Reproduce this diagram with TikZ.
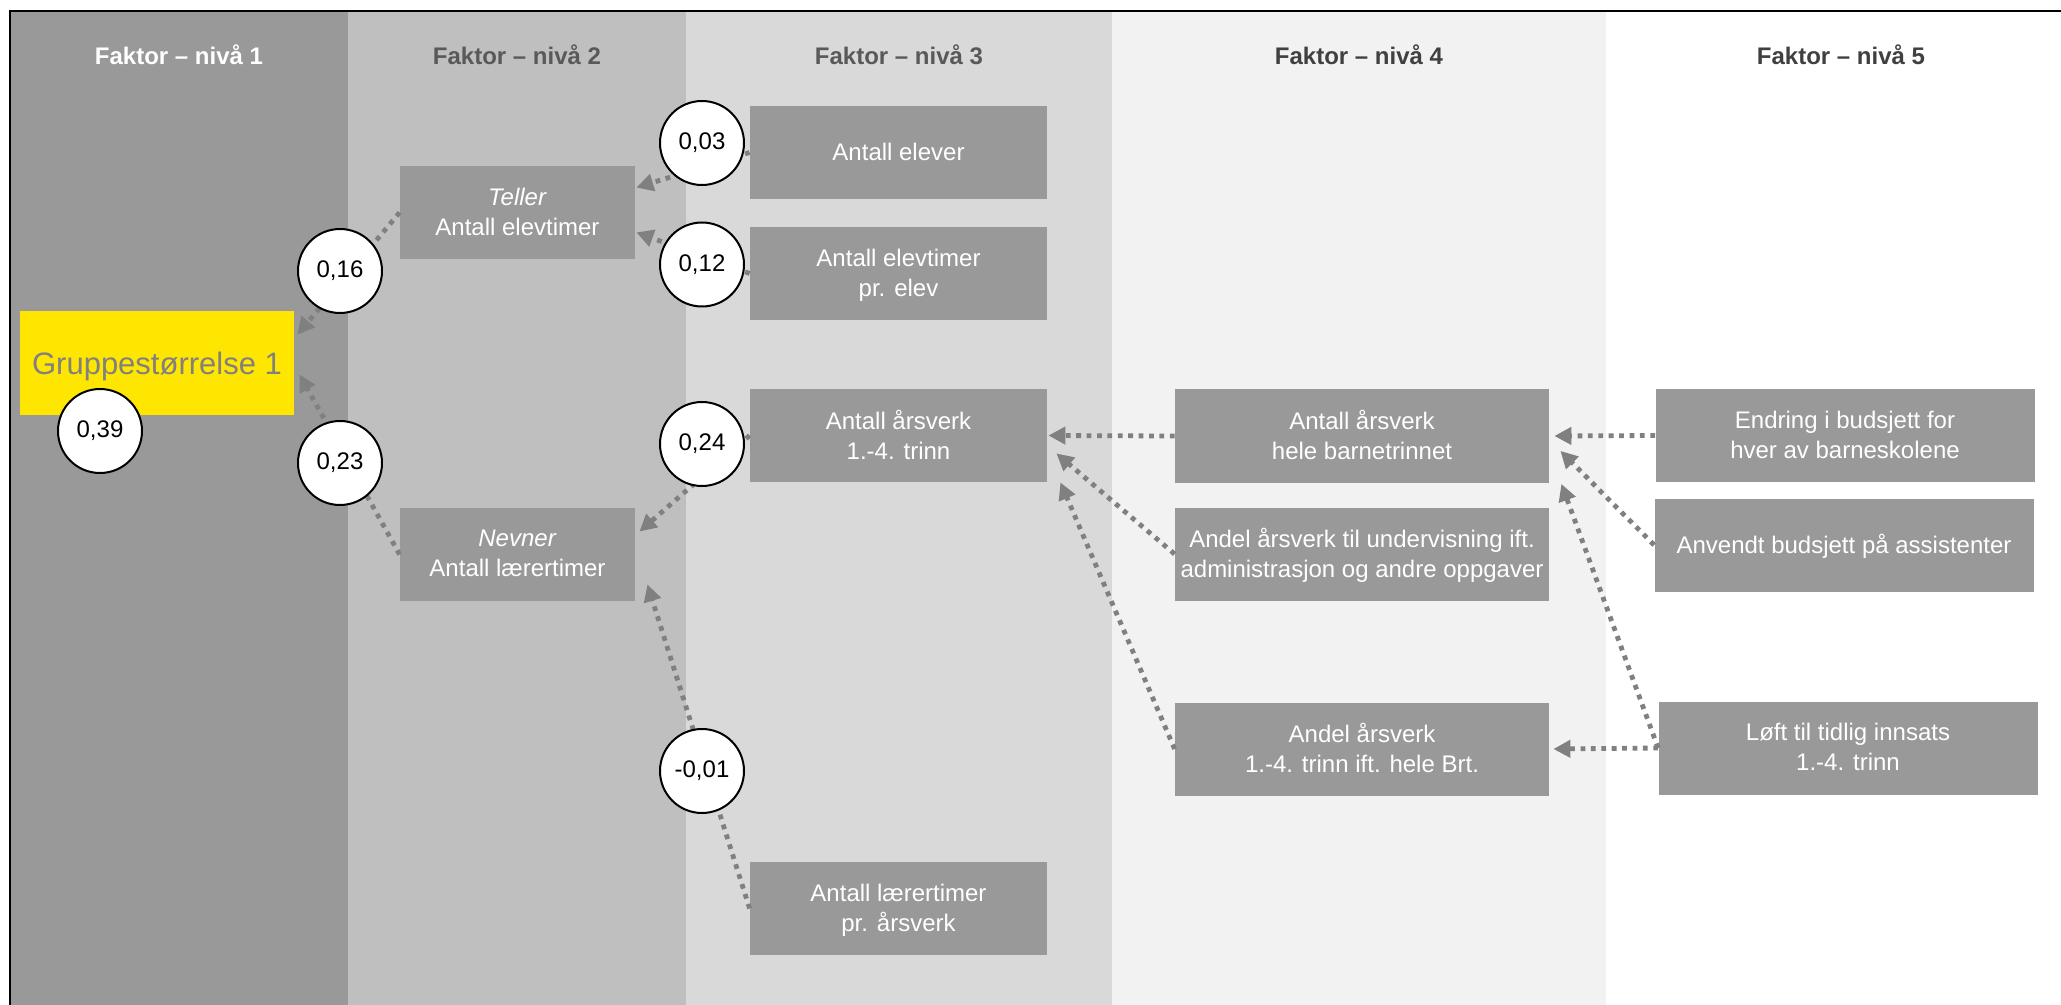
\documentclass[tikz,border=0pt]{standalone}
\usepackage{fontspec}
\setmainfont{Liberation Sans}
\usetikzlibrary{positioning,arrows.meta,calc}
\definecolor{colone}{HTML}{999999}
\definecolor{coltwo}{HTML}{BFBFBF}
\definecolor{colthree}{HTML}{D9D9D9}
\definecolor{colfour}{HTML}{F2F2F2}
\definecolor{boxgray}{HTML}{999999}
\definecolor{arrowgray}{HTML}{808080}
\definecolor{headmid}{HTML}{595959}
\definecolor{headdark}{HTML}{404040}
\definecolor{grpyellow}{HTML}{FFE600}
\tikzset{
  flowarrow/.style={-{Triangle[length=8.5pt, width=8.5pt]}, color=arrowgray, line width=2.4pt, dash pattern=on 2.4pt off 2.8pt},
  factorbox/.style={fill=boxgray, text=white, inner sep=0pt, minimum width=148.5pt, minimum height=46.5pt, align=center, text depth=1pt},
  ratiobox/.style={factorbox, minimum width=117.5pt},
  widebox/.style={factorbox, minimum width=187pt},
  budgetbox/.style={factorbox, minimum width=189.5pt},
  targetbox/.style={fill=grpyellow, text=arrowgray, inner sep=0pt, minimum width=137pt, minimum height=52pt, text depth=0pt, font=\fontsize{15.5}{18}\selectfont},
  coef/.style={circle, draw=black, line width=1pt, fill=white, minimum size=42pt, inner sep=0pt},
  levelhead/.style={font=\bfseries\fontsize{12}{15}\selectfont}
}

\begin{document}
\begin{tikzpicture}[x=0.5pt, y=-0.5pt, every node/.style={font=\fontsize{12}{15}\selectfont}]
  \useasboundingbox (0,0) rectangle (2061,1005);
  \fill[white] (0,0) rectangle (2061,1005);
  % level columns
  \fill[colone] (10,11) rectangle (348,1010);
  \fill[coltwo] (348,11) rectangle (686,1010);
  \fill[colthree] (686,11) rectangle (1112,1010);
  \fill[colfour] (1112,11) rectangle (1606,1010);
  \draw[line width=1.3pt] (10,1010) -- (10,11) -- (2070,11);

  \node[levelhead, text=white] (headone) at (179,55) {Faktor – nivå 1};
  \node[levelhead, text=headmid] (headtwo) at (517,55) {Faktor – nivå 2};
  \node[levelhead, text=headmid] (headthree) at (899,55) {Faktor – nivå 3};
  \node[levelhead, text=headdark] (headfour) at (1359,55) {Faktor – nivå 4};
  \node[levelhead, text=headdark] (headfive) at (1841,55) {Faktor – nivå 5};

  % boxes
  \node[targetbox] (grp) at (157,363) {Gruppestørrelse 1};
  \node[ratiobox] (teller) at (517.5,212.5) {\textit{Teller}\\Antall elevtimer};
  \node[ratiobox] (nevner) at (517.5,554.5) {\textit{Nevner}\\Antall lærertimer};
  \node[factorbox] (elever) at (898.5,152.5) {Antall elever};
  \node[factorbox] (elevtimer) at (898.5,273.5) {Antall elevtimer\\pr. elev};
  \node[factorbox] (aars14) at (898.5,435.5) {Antall årsverk\\1.-4. trinn};
  \node[factorbox] (laerer) at (898.5,908.5) {Antall lærertimer\\pr. årsverk};
  \node[widebox] (hele) at (1362,436) {Antall årsverk\\hele barnetrinnet};
  \node[widebox] (andelund) at (1362,554) {Andel årsverk til undervisning ift.\\administrasjon og andre oppgaver};
  \node[widebox] (andel14) at (1362,749) {Andel årsverk\\1.-4. trinn ift. hele Brt.};
  \node[budgetbox] (endring) at (1845,435.5) {Endring i budsjett for\\hver av barneskolene};
  \node[budgetbox] (anvendt) at (1844,545) {Anvendt budsjett på assistenter};
  \node[budgetbox] (loeft) at (1848,748) {Løft til tidlig innsats\\1.-4. trinn};

  % arrows
  \draw[flowarrow] (teller.west) -- ($(grp.north east)+(3,24)$);
  \draw[flowarrow] (nevner.west) -- ($(grp.south east)+(5,-41)$);
  \draw[flowarrow] (elever.west) -- ($(teller.north east)+(1,22)$);
  \draw[flowarrow] (elevtimer.west) -- ($(teller.south east)+(1,-27)$);
  \draw[flowarrow] (aars14.west) -- ($(nevner.north east)+(4,24)$);
  \draw[flowarrow] (laerer.west) -- ($(nevner.south east)+(12,-17)$);
  \draw[flowarrow] (hele.west) -- ($(aars14.east)+(1,0)$);
  \draw[flowarrow] (andelund.west) -- ($(aars14.south east)+(9,-29)$);
  \draw[flowarrow] (andel14.west) -- ($(aars14.south east)+(13,0)$);
  \draw[flowarrow] (endring.west) -- ($(hele.east)+(5,0)$);
  \draw[flowarrow] (anvendt.west) -- ($(hele.south east)+(11,-32)$);
  \draw[flowarrow] (loeft.west) -- ($(hele.south east)+(12,1)$);
  \draw[flowarrow] (loeft.west) -- ($(andel14.east)+(4,0)$);

  % coefficients
  \node[coef] (c039) at (100,431) {0,39};
  \node[coef] (c016) at (340,271) {0,16};
  \node[coef] (c023) at (340,463) {0,23};
  \node[coef] (c003) at (702,143) {0,03};
  \node[coef] (c012) at (702,264.5) {0,12};
  \node[coef] (c024) at (702,444) {0,24};
  \node[coef] (cm001) at (702,771) {-0,01};
\end{tikzpicture}
\end{document}
